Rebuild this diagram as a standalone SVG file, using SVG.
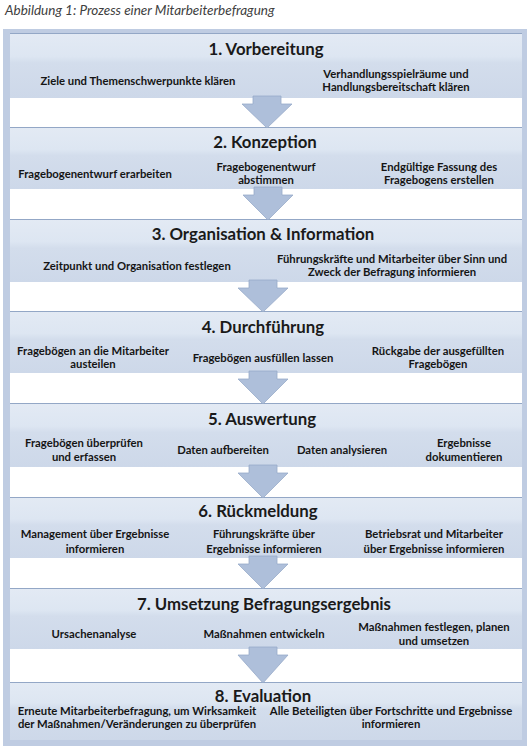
<svg xmlns="http://www.w3.org/2000/svg" width="529" height="748" viewBox="0 0 529 748">
<defs>
<linearGradient id="boxg" x1="0" y1="0" x2="0" y2="1">
<stop offset="0" stop-color="#e3eaf4"/>
<stop offset="0.36" stop-color="#dde6f2"/>
<stop offset="0.46" stop-color="#d3ddec"/>
<stop offset="1" stop-color="#cdd8e9"/>
</linearGradient>
<style>
.cap{font-family:Lato,"Open Sans","Liberation Sans",sans-serif;font-style:italic;font-size:13.5px;fill:#404040}
.t{font-family:Lato,"Open Sans","Liberation Sans",sans-serif;font-weight:bold;font-size:16.8px;fill:#1a1a1a;text-anchor:middle}
.s{font-family:Lato,"Open Sans","Liberation Sans",sans-serif;font-weight:bold;font-size:11.3px;fill:#151515;text-anchor:middle}
.box{fill:url(#boxg)}
.edge{stroke:#93a7c6;stroke-width:1}
.arr{fill:#aebfda;stroke:#98abc9;stroke-width:0.8}
</style>
</defs>
<rect width="529" height="748" fill="#ffffff"/>
<text class="cap" x="5" y="15">Abbildung 1: Prozess einer Mitarbeiterbefragung</text>
<g id="frame">
<rect x="3" y="29" width="524" height="717" fill="#bfcce2"/>
<rect x="10" y="33" width="512" height="707" fill="#ffffff"/>
</g>
<g id="stage1">
<rect class="box" x="10" y="33" width="512" height="65"/>
<line class="edge" x1="10" y1="33.5" x2="522" y2="33.5"/>
<text class="t" x="266" y="55">1. Vorbereitung</text>
<text class="s" x="138" y="84.5">Ziele und Themenschwerpunkte klären</text>
<text class="s" x="396" y="78">Verhandlungsspielräume und</text>
<text class="s" x="396" y="91">Handlungsbereitschaft klären</text>
</g>
<g id="stage2">
<rect class="box" x="10" y="127" width="512" height="62"/>
<line class="edge" x1="10" y1="127.5" x2="522" y2="127.5"/>
<text class="t" x="265" y="148">2. Konzeption</text>
<text class="s" x="95" y="177.5">Fragebogenentwurf erarbeiten</text>
<text class="s" x="266" y="171">Fragebogenentwurf</text>
<text class="s" x="266" y="184">abstimmen</text>
<text class="s" x="439" y="171">Endgültige Fassung des</text>
<text class="s" x="439" y="184">Fragebogens erstellen</text>
</g>
<g id="stage3">
<rect class="box" x="10" y="219" width="512" height="63"/>
<line class="edge" x1="10" y1="219.5" x2="522" y2="219.5"/>
<text class="t" x="263" y="240">3. Organisation &amp; Information</text>
<text class="s" x="137" y="269.5">Zeitpunkt und Organisation festlegen</text>
<text class="s" x="392" y="263">Führungskräfte und Mitarbeiter über Sinn und</text>
<text class="s" x="392" y="276">Zweck der Befragung informieren</text>
</g>
<g id="stage4">
<rect class="box" x="10" y="311" width="512" height="62"/>
<line class="edge" x1="10" y1="311.5" x2="522" y2="311.5"/>
<text class="t" x="263" y="333">4. Durchführung</text>
<text class="s" x="93" y="355">Fragebögen an die Mitarbeiter</text>
<text class="s" x="93" y="368">austeilen</text>
<text class="s" x="263" y="362">Fragebögen ausfüllen lassen</text>
<text class="s" x="438" y="355">Rückgabe der ausgefüllten</text>
<text class="s" x="438" y="368">Fragebögen</text>
</g>
<g id="stage5">
<rect class="box" x="10" y="403" width="512" height="64"/>
<line class="edge" x1="10" y1="403.5" x2="522" y2="403.5"/>
<text class="t" x="262" y="425">5. Auswertung</text>
<text class="s" x="84" y="447">Fragebögen überprüfen</text>
<text class="s" x="84" y="461">und erfassen</text>
<text class="s" x="223" y="454">Daten aufbereiten</text>
<text class="s" x="342" y="454">Daten analysieren</text>
<text class="s" x="464" y="447">Ergebnisse</text>
<text class="s" x="464" y="461">dokumentieren</text>
</g>
<g id="stage6">
<rect class="box" x="10" y="497" width="512" height="61"/>
<line class="edge" x1="10" y1="497.5" x2="522" y2="497.5"/>
<text class="t" x="258" y="517">6. Rückmeldung</text>
<text class="s" x="95" y="538">Management über Ergebnisse</text>
<text class="s" x="95" y="553">informieren</text>
<text class="s" x="264" y="538">Führungskräfte über</text>
<text class="s" x="264" y="553">Ergebnisse informieren</text>
<text class="s" x="434" y="538">Betriebsrat und Mitarbeiter</text>
<text class="s" x="434" y="553">über Ergebnisse informieren</text>
</g>
<g id="stage7">
<rect class="box" x="10" y="588" width="512" height="61"/>
<line class="edge" x1="10" y1="588.5" x2="522" y2="588.5"/>
<text class="t" x="264" y="610">7. Umsetzung Befragungsergebnis</text>
<text class="s" x="94" y="638">Ursachenanalyse</text>
<text class="s" x="264" y="638">Maßnahmen entwickeln</text>
<text class="s" x="434" y="631">Maßnahmen festlegen, planen</text>
<text class="s" x="434" y="645">und umsetzen</text>
</g>
<g id="stage8">
<rect class="box" x="10" y="682" width="512" height="58"/>
<line class="edge" x1="10" y1="682.5" x2="522" y2="682.5"/>
<text class="t" x="263" y="702">8. Evaluation</text>
<text class="s" x="137" y="715">Erneute Mitarbeiterbefragung, um Wirksamkeit</text>
<text class="s" x="137" y="728">der Maßnahmen/Veränderungen zu überprüfen</text>
<text class="s" x="391" y="715">Alle Beteiligten über Fortschritte und Ergebnisse</text>
<text class="s" x="391" y="728">informieren</text>
</g>
<g id="connectors">
<path class="arr" d="M253,96 H281 V104 H292 L267,128 L242,104 H253 Z"/>
<path class="arr" d="M254,187 H282 V195 H293 L268,220 L243,195 H254 Z"/>
<path class="arr" d="M249,280 H277 V288 H288 L263,312 L238,288 H249 Z"/>
<path class="arr" d="M249,371 H277 V379 H288 L263,404 L238,379 H249 Z"/>
<path class="arr" d="M249,465 H277 V473 H288 L263,498 L238,473 H249 Z"/>
<path class="arr" d="M249,556 H277 V564 H288 L263,589 L238,564 H249 Z"/>
<path class="arr" d="M249,647 H277 V655 H288 L263,683 L238,655 H249 Z"/>
</g>
</svg>
